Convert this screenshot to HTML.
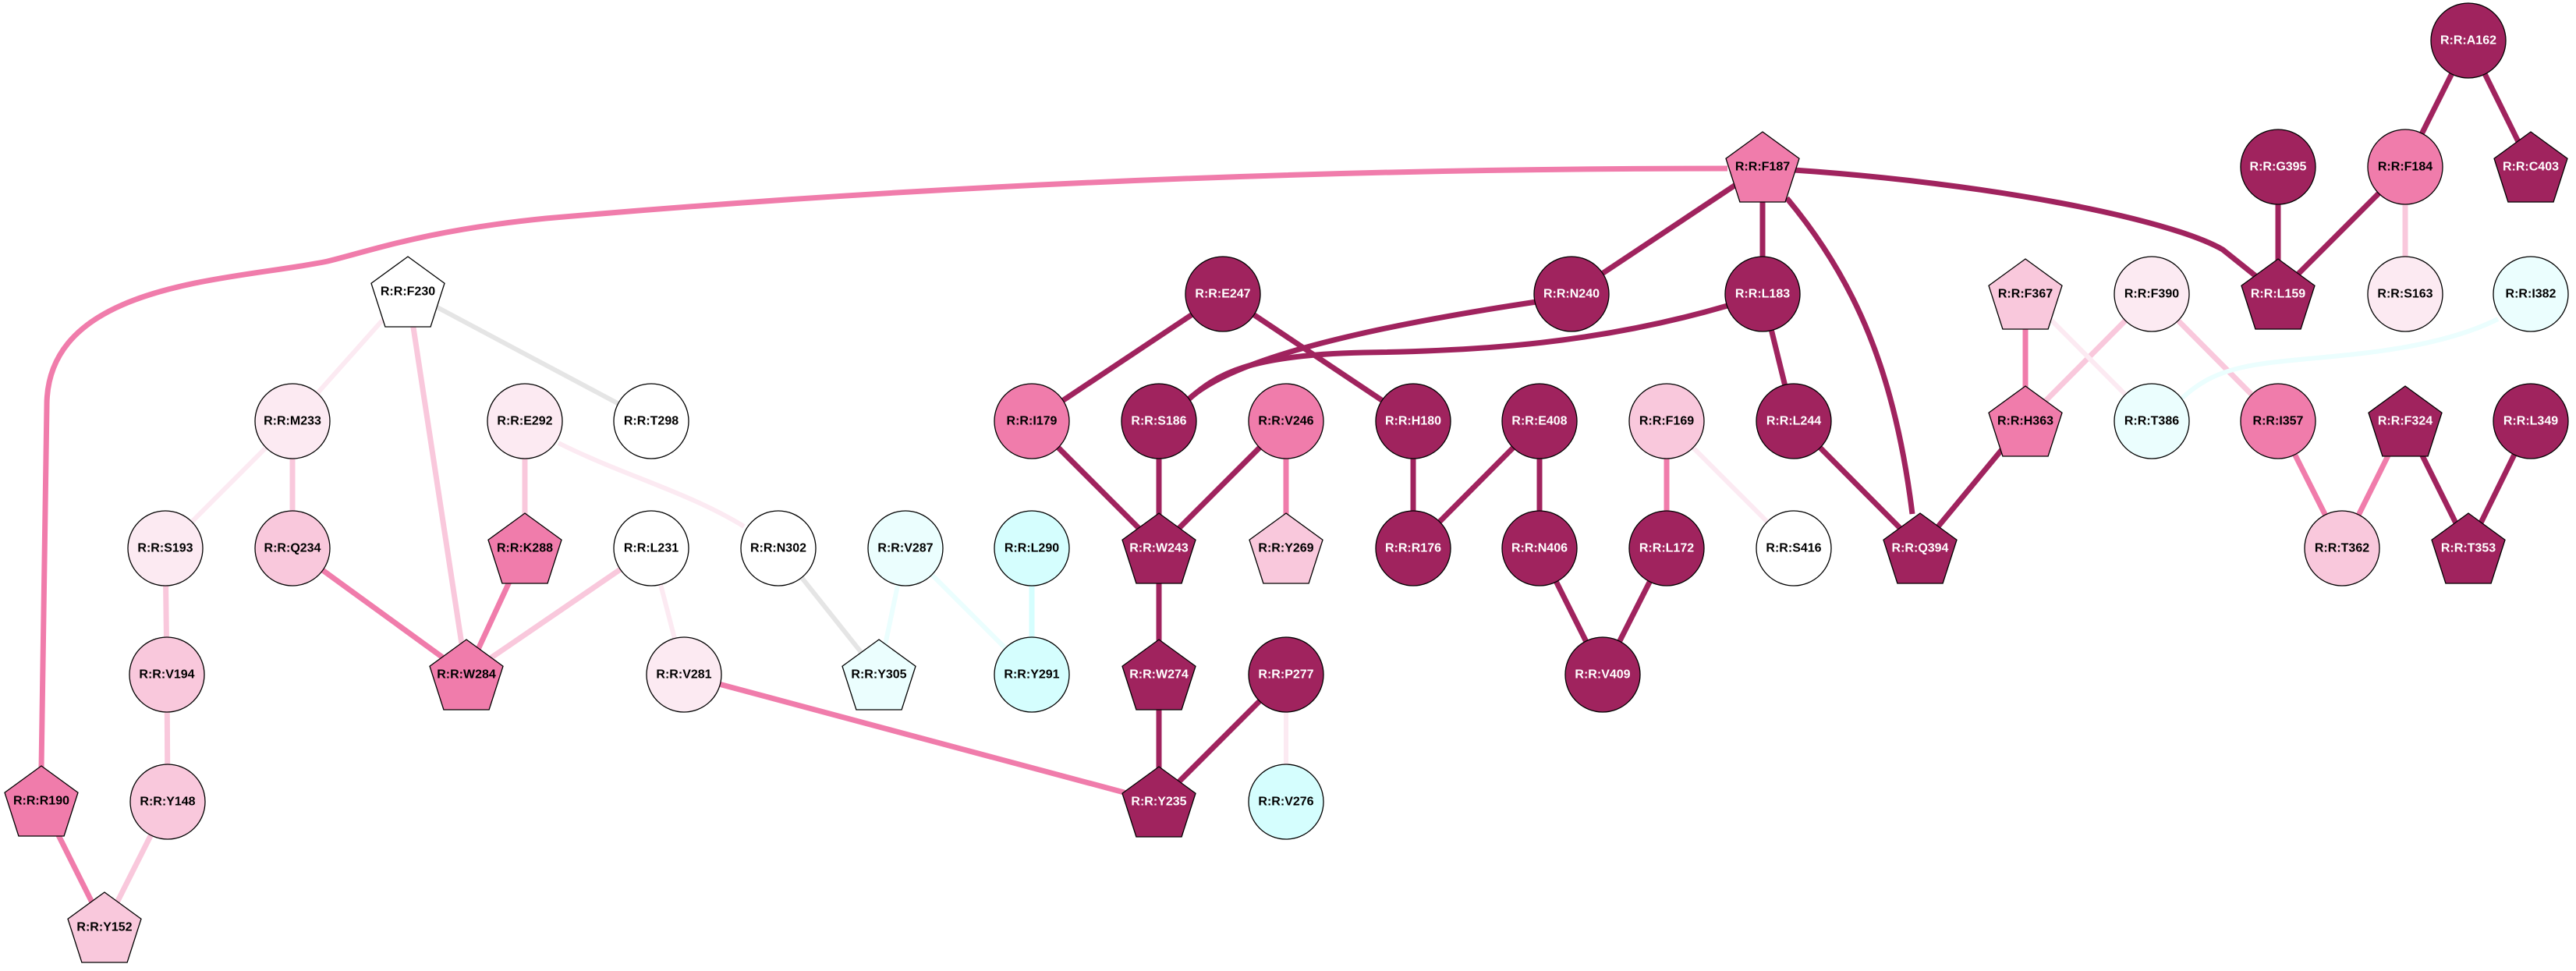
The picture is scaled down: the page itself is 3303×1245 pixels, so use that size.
<!DOCTYPE html>
<html><head><meta charset="utf-8"><style>
html,body{margin:0;padding:0;background:#fff;}
svg{display:block;}
text{font-family:"Liberation Sans",Arial,sans-serif;font-weight:bold;font-size:16px;text-anchor:middle;dominant-baseline:central;}
</style></head><body>
<svg width="3303" height="1245" viewBox="0 0 3303 1245" xmlns="http://www.w3.org/2000/svg">
<defs>
<polygon id="pg" points="0,-45 47,-10.8 29.1,45 -29.1,45 -47,-10.8" stroke="#000" stroke-width="1.3"/>
</defs>
<g fill="none" stroke-linecap="butt">
<!-- mid pink -->
<g stroke="#F07CAB" stroke-width="7">
<path d="M2215,216 C1600,216 1100,245 700,280 C550,295 480,320 420,335 C300,360 60,360 60,520 L53,985"/>
<line x1="53" y1="1027" x2="134" y2="1189"/>
<line x1="375" y1="703" x2="598" y2="865"/>
<line x1="673" y1="703" x2="598" y2="865"/>
<line x1="877" y1="865" x2="1486" y2="1028"/>
<line x1="1649" y1="540" x2="1649" y2="703"/>
<line x1="2137" y1="540" x2="2137" y2="703"/>
<line x1="2597" y1="377" x2="2597" y2="540"/>
<line x1="2921" y1="540" x2="3003" y2="703"/>
<line x1="3084" y1="540" x2="3003" y2="703"/>
</g>
<!-- dark -->
<g stroke="#A0235E" stroke-width="7">
<line x1="2260" y1="214" x2="2015" y2="377"/>
<line x1="2260" y1="214" x2="2260" y2="377"/>
<path d="M2291,254 C2380,360 2430,480 2452,659"/>
<path d="M2300,218 C2550,235 2780,280 2850,320 L2900,360"/>
<path d="M1970,387 C1750,420 1580,460 1524,512"/>
<path d="M2215,392 C2050,440 1900,450 1750,452 C1600,455 1560,480 1524,512"/>
<line x1="1568" y1="377" x2="1323" y2="540"/>
<line x1="1568" y1="377" x2="1812" y2="540"/>
<line x1="1323" y1="540" x2="1486" y2="703"/>
<line x1="1486" y1="540" x2="1486" y2="703"/>
<line x1="1649" y1="540" x2="1486" y2="703"/>
<line x1="1486" y1="703" x2="1486" y2="865"/>
<line x1="1486" y1="865" x2="1486" y2="1028"/>
<line x1="1649" y1="865" x2="1486" y2="1028"/>
<line x1="1812" y1="540" x2="1812" y2="703"/>
<line x1="1974" y1="540" x2="1812" y2="703"/>
<line x1="1974" y1="540" x2="1974" y2="703"/>
<line x1="1974" y1="703" x2="2055" y2="865"/>
<line x1="2137" y1="703" x2="2055" y2="865"/>
<line x1="2260" y1="377" x2="2300" y2="540"/>
<line x1="2300" y1="540" x2="2462" y2="703"/>
<line x1="2597" y1="540" x2="2462" y2="703"/>
<line x1="2921" y1="214" x2="2921" y2="377"/>
<line x1="3084" y1="214" x2="2921" y2="377"/>
<line x1="3165" y1="52" x2="3084" y2="214"/>
<line x1="3165" y1="52" x2="3245" y2="214"/>
<line x1="3084" y1="540" x2="3165" y2="703"/>
<line x1="3245" y1="540" x2="3165" y2="703"/>
</g>
<!-- light pink -->
<g stroke="#F9C8DC" stroke-width="7">
<line x1="523" y1="374" x2="598" y2="865"/>
<line x1="673" y1="540" x2="673" y2="703"/>
<line x1="375" y1="540" x2="375" y2="703"/>
<line x1="212" y1="703" x2="214" y2="865"/>
<line x1="214" y1="865" x2="215" y2="1028"/>
<line x1="215" y1="1028" x2="134" y2="1189"/>
<line x1="835" y1="703" x2="598" y2="865"/>
<line x1="2759" y1="377" x2="2597" y2="540"/>
<line x1="2759" y1="377" x2="2921" y2="540"/>
<line x1="3084" y1="214" x2="3084" y2="377"/>
</g>
<!-- very light pink -->
<g stroke="#FCEAF2" stroke-width="6">
<line x1="523" y1="374" x2="375" y2="540"/>
<line x1="375" y1="540" x2="212" y2="703"/>
<path d="M716,568 C800,610 880,630 954,675"/>
<line x1="835" y1="703" x2="877" y2="865"/>
<line x1="1649" y1="865" x2="1649" y2="1028"/>
<line x1="2137" y1="540" x2="2300" y2="703"/>
<line x1="2597" y1="377" x2="2759" y2="540"/>
</g>
<!-- grey / cyan -->
<g stroke="#E5E5E5" stroke-width="6">
<line x1="523" y1="374" x2="835" y2="540"/>
<line x1="998" y1="703" x2="1127" y2="865"/>
</g>
<g stroke="#EBFEFE" stroke-width="6">
<line x1="1161" y1="703" x2="1127" y2="865"/>
<line x1="1161" y1="703" x2="1323" y2="865"/>
<path d="M3203,409 C3100,460 2950,455 2880,470 C2830,480 2810,500 2796,512"/>
</g>
<g stroke="#D5FEFE" stroke-width="7">
<line x1="1323" y1="703" x2="1323" y2="865"/>
</g>
</g>

<!-- nodes -->
<g stroke="#000" stroke-width="1.3">
<!-- circles -->
<circle cx="375" cy="540" r="48" fill="#FCEAF2"/>
<circle cx="673" cy="540" r="48" fill="#FCEAF2"/>
<circle cx="835" cy="540" r="48" fill="#FFFFFF"/>
<circle cx="212" cy="703" r="48" fill="#FCEAF2"/>
<circle cx="375" cy="703" r="48" fill="#F9C8DC"/>
<circle cx="835" cy="703" r="48" fill="#FFFFFF"/>
<circle cx="998" cy="703" r="48" fill="#FFFFFF"/>
<circle cx="214" cy="865" r="48" fill="#F9C8DC"/>
<circle cx="877" cy="865" r="48" fill="#FCEAF2"/>
<circle cx="215" cy="1028" r="48" fill="#F9C8DC"/>
<circle cx="1568" cy="377" r="48" fill="#A0235E"/>
<circle cx="2015" cy="377" r="48" fill="#A0235E"/>
<circle cx="1323" cy="540" r="48" fill="#F07CAB"/>
<circle cx="1486" cy="540" r="48" fill="#A0235E"/>
<circle cx="1649" cy="540" r="48" fill="#F07CAB"/>
<circle cx="1812" cy="540" r="48" fill="#A0235E"/>
<circle cx="1974" cy="540" r="48" fill="#A0235E"/>
<circle cx="2137" cy="540" r="48" fill="#F9C8DC"/>
<circle cx="1161" cy="703" r="48" fill="#EBFEFE"/>
<circle cx="1323" cy="703" r="48" fill="#D5FEFE"/>
<circle cx="1812" cy="703" r="48" fill="#A0235E"/>
<circle cx="1974" cy="703" r="48" fill="#A0235E"/>
<circle cx="2137" cy="703" r="48" fill="#A0235E"/>
<circle cx="1323" cy="865" r="48" fill="#D5FEFE"/>
<circle cx="1649" cy="865" r="48" fill="#A0235E"/>
<circle cx="2055" cy="865" r="48" fill="#A0235E"/>
<circle cx="1649" cy="1028" r="48" fill="#D5FEFE"/>
<circle cx="3165" cy="52" r="48" fill="#A0235E"/>
<circle cx="2921" cy="214" r="48" fill="#A0235E"/>
<circle cx="3084" cy="214" r="48" fill="#F07CAB"/>
<circle cx="2260" cy="377" r="48" fill="#A0235E"/>
<circle cx="2759" cy="377" r="48" fill="#FCEAF2"/>
<circle cx="3084" cy="377" r="48" fill="#FCEAF2"/>
<circle cx="3245" cy="377" r="48" fill="#EBFEFE"/>
<circle cx="2300" cy="540" r="48" fill="#A0235E"/>
<circle cx="2759" cy="540" r="48" fill="#EBFEFE"/>
<circle cx="2921" cy="540" r="48" fill="#F07CAB"/>
<circle cx="3245" cy="540" r="48" fill="#A0235E"/>
<circle cx="2300" cy="703" r="48" fill="#FFFFFF"/>
<circle cx="3003" cy="703" r="48" fill="#F9C8DC"/>
<!-- pentagons -->
<use href="#pg" x="523" y="374" fill="#FFFFFF"/>
<use href="#pg" x="673" y="703" fill="#F07CAB"/>
<use href="#pg" x="598" y="865" fill="#F07CAB"/>
<use href="#pg" x="53" y="1027" fill="#F07CAB"/>
<use href="#pg" x="134" y="1189" fill="#F9C8DC"/>
<use href="#pg" x="1486" y="703" fill="#A0235E"/>
<use href="#pg" x="1649" y="703" fill="#F9C8DC"/>
<use href="#pg" x="1127" y="865" fill="#EBFEFE"/>
<use href="#pg" x="1486" y="865" fill="#A0235E"/>
<use href="#pg" x="1486" y="1028" fill="#A0235E"/>
<use href="#pg" x="2260" y="214" fill="#F07CAB"/>
<use href="#pg" x="3245" y="214" fill="#A0235E"/>
<use href="#pg" x="2597" y="377" fill="#F9C8DC"/>
<use href="#pg" x="2921" y="377" fill="#A0235E"/>
<use href="#pg" x="2597" y="540" fill="#F07CAB"/>
<use href="#pg" x="3084" y="540" fill="#A0235E"/>
<use href="#pg" x="2462" y="703" fill="#A0235E"/>
<use href="#pg" x="3165" y="703" fill="#A0235E"/>
</g>

<!-- labels -->
<g fill="#000">
<text x="523" y="374">R:R:F230</text>
<text x="375" y="540">R:R:M233</text>
<text x="673" y="540">R:R:E292</text>
<text x="835" y="540">R:R:T298</text>
<text x="212" y="703">R:R:S193</text>
<text x="375" y="703">R:R:Q234</text>
<text x="673" y="703">R:R:K288</text>
<text x="835" y="703">R:R:L231</text>
<text x="998" y="703">R:R:N302</text>
<text x="214" y="865">R:R:V194</text>
<text x="598" y="865">R:R:W284</text>
<text x="877" y="865">R:R:V281</text>
<text x="53" y="1027">R:R:R190</text>
<text x="215" y="1028">R:R:Y148</text>
<text x="134" y="1189">R:R:Y152</text>
<text x="1323" y="540">R:R:I179</text>
<text x="1649" y="540">R:R:V246</text>
<text x="2137" y="540">R:R:F169</text>
<text x="1161" y="703">R:R:V287</text>
<text x="1323" y="703">R:R:L290</text>
<text x="1649" y="703">R:R:Y269</text>
<text x="1127" y="865">R:R:Y305</text>
<text x="1323" y="865">R:R:Y291</text>
<text x="1649" y="1028">R:R:V276</text>
<text x="2260" y="214">R:R:F187</text>
<text x="3084" y="214">R:R:F184</text>
<text x="2597" y="377">R:R:F367</text>
<text x="2759" y="377">R:R:F390</text>
<text x="3084" y="377">R:R:S163</text>
<text x="3245" y="377">R:R:I382</text>
<text x="2597" y="540">R:R:H363</text>
<text x="2759" y="540">R:R:T386</text>
<text x="2921" y="540">R:R:I357</text>
<text x="2300" y="703">R:R:S416</text>
<text x="3003" y="703">R:R:T362</text>
</g>
<g fill="#fff">
<text x="1568" y="377">R:R:E247</text>
<text x="2015" y="377">R:R:N240</text>
<text x="1486" y="540">R:R:S186</text>
<text x="1812" y="540">R:R:H180</text>
<text x="1974" y="540">R:R:E408</text>
<text x="1486" y="703">R:R:W243</text>
<text x="1812" y="703">R:R:R176</text>
<text x="1974" y="703">R:R:N406</text>
<text x="2137" y="703">R:R:L172</text>
<text x="1486" y="865">R:R:W274</text>
<text x="1649" y="865">R:R:P277</text>
<text x="2055" y="865">R:R:V409</text>
<text x="1486" y="1028">R:R:Y235</text>
<text x="3165" y="52">R:R:A162</text>
<text x="2921" y="214">R:R:G395</text>
<text x="3245" y="214">R:R:C403</text>
<text x="2260" y="377">R:R:L183</text>
<text x="2921" y="377">R:R:L159</text>
<text x="2300" y="540">R:R:L244</text>
<text x="3084" y="540">R:R:F324</text>
<text x="3245" y="540">R:R:L349</text>
<text x="2462" y="703">R:R:Q394</text>
<text x="3165" y="703">R:R:T353</text>
</g>
</svg>
</body></html>
